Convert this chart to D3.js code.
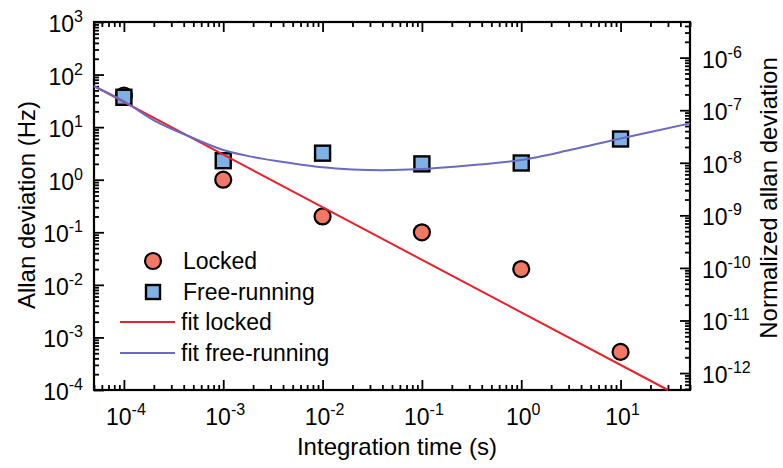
<!DOCTYPE html>
<html>
<head>
<meta charset="utf-8">
<title>Allan deviation</title>
<script src="https://d3js.org/d3.v7.min.js"></script>
<style>
  body { margin: 0; background: #fff; }
  svg text { font-family: "Liberation Sans", Arial, sans-serif; fill: #000; }
</style>
</head>
<body>
<svg id="chart" width="783" height="468"></svg>
<script>
// measured points
var tau = [1e-4, 1e-3, 1e-2, 1e-1, 1e0, 1e1];
var locked = [40, 1.0, 0.2, 0.1, 0.02, 0.00053];
var freeRunning = [37, 2.3, 3.2, 2.0, 2.08, 5.95];

// fit curves
var fitLockedTau = [5e-5, 30];
var fitLocked = [60, 1e-4];
var fitFreeTau = [5e-5, 1e-4, 2.14e-4, 4.7e-4, 1e-3, 2e-3, 4.7e-3, 1e-2, 2e-2, 4e-2, 0.1, 0.38, 1, 3.16, 10, 50];
var fitFree = [60, 31, 12.6, 6.5, 3.67, 2.7, 2.08, 1.72, 1.57, 1.52, 1.6, 1.95, 2.37, 3.7, 6.1, 11.8];

var xExp = [-4, -3, -2, -1, 0, 1];
var yExp = [3, 2, 1, 0, -1, -2, -3, -4];
var rExp = [-6, -7, -8, -9, -10, -11, -12];
var normFactor = 2.1e8;

var legendLabels = ["Locked", "Free-running", "fit locked", "fit free-running"];

(function() {
    var svg = d3.select("#chart");
    var mLeft = 94, mRight = 690, mTop = 22, mBottom = 390;

    var x = d3.scaleLog().domain([5e-5, 50]).range([mLeft, mRight]);
    var y = d3.scaleLog().domain([1e-4, 1e3]).range([mBottom, mTop]);
    var yR = d3.scaleLog().domain([1e-4 / normFactor, 1e3 / normFactor]).range([mBottom, mTop]);

    function minors(scale) {
        var d = scale.domain(), out = [];
        var lo = Math.floor(Math.log10(d[0])), hi = Math.ceil(Math.log10(d[1]));
        for (var p = lo; p <= hi; p++)
            for (var k = 2; k <= 9; k++) {
                var v = k * Math.pow(10, p);
                if (v >= d[0] && v <= d[1]) out.push(v);
            }
        return out;
    }
    function majors(scale) {
        var d = scale.domain(), out = [];
        for (var p = Math.ceil(Math.log10(d[0]) - 1e-9); p <= Math.floor(Math.log10(d[1]) + 1e-9); p++)
            out.push(Math.pow(10, p));
        return out;
    }

    // ticks, all pointing inwards
    function drawTicks(axisFn, scale, transform) {
        [[majors(scale), 10], [minors(scale), 5]].forEach(function(t) {
            svg.append("g")
                .attr("transform", transform)
                .call(axisFn(scale).tickValues(t[0]).tickSize(-t[1]).tickSizeOuter(0).tickFormat(""))
                .call(function(g) {
                    g.select(".domain").remove();
                    g.selectAll("line").attr("stroke", "#000").attr("stroke-width", 1.8);
                });
        });
    }
    drawTicks(d3.axisBottom, x, "translate(0," + mBottom + ")");
    drawTicks(d3.axisTop, x, "translate(0," + mTop + ")");
    drawTicks(d3.axisLeft, y, "translate(" + mLeft + ",0)");
    drawTicks(d3.axisRight, yR, "translate(" + mRight + ",0)");

    svg.append("rect")
        .attr("x", mLeft).attr("y", mTop)
        .attr("width", mRight - mLeft).attr("height", mBottom - mTop)
        .attr("fill", "none").attr("stroke", "#000").attr("stroke-width", 2.2);

    function powLabel(g, e, px, py, anchor) {
        var t = g.append("text")
            .attr("x", px).attr("y", py)
            .attr("text-anchor", anchor)
            .style("font-size", "23px");
        t.append("tspan").text("10");
        t.append("tspan").attr("dy", -10).style("font-size", "16px").text(e);
    }

    var labels = svg.append("g");
    xExp.forEach(function(e) { powLabel(labels, e, x(Math.pow(10, e)) + 2, 425, "middle"); });
    yExp.forEach(function(e) { powLabel(labels, e, 83, y(Math.pow(10, e)) + 10, "end"); });
    rExp.forEach(function(e) { powLabel(labels, e, 702, yR(Math.pow(10, e)) + 10, "start"); });

    svg.append("text")
        .attr("x", 397).attr("y", 455)
        .attr("text-anchor", "middle")
        .style("font-size", "24px")
        .text("Integration time (s)");

    svg.append("text")
        .attr("transform", "translate(35,205) rotate(-90)")
        .attr("text-anchor", "middle")
        .style("font-size", "24px")
        .text("Allan deviation (Hz)");

    svg.append("text")
        .attr("transform", "translate(777,198) rotate(-90)")
        .attr("text-anchor", "middle")
        .style("font-size", "24px")
        .text("Normalized allan deviation");

    var plot = svg.append("g");

    // markers
    plot.selectAll("circle.locked")
        .data(tau.map(function(t, i) { return [t, locked[i]]; }))
        .enter().append("circle")
        .attr("class", "locked")
        .attr("cx", function(d) { return x(d[0]); })
        .attr("cy", function(d) { return y(d[1]); })
        .attr("r", 8)
        .attr("fill", "#f07864")
        .attr("stroke", "#000").attr("stroke-width", 2.2);

    plot.selectAll("rect.free")
        .data(tau.map(function(t, i) { return [t, freeRunning[i]]; }))
        .enter().append("rect")
        .attr("class", "free")
        .attr("x", function(d) { return x(d[0]) - 7.5; })
        .attr("y", function(d) { return y(d[1]) - 7.5; })
        .attr("width", 15).attr("height", 15)
        .attr("fill", "#7fb2e4")
        .attr("stroke", "#000").attr("stroke-width", 2.4);

    // fit lines
    var line = d3.line()
        .x(function(d) { return x(d[0]); })
        .y(function(d) { return y(d[1]); });

    plot.append("path")
        .datum(fitLockedTau.map(function(t, i) { return [t, fitLocked[i]]; }))
        .attr("d", line)
        .attr("fill", "none").attr("stroke", "#e8212b").attr("stroke-width", 2);

    plot.append("path")
        .datum(fitFreeTau.map(function(t, i) { return [t, fitFree[i]]; }))
        .attr("d", line.curve(d3.curveCatmullRom.alpha(0.5)))
        .attr("fill", "none").attr("stroke", "#6a6ac0").attr("stroke-width", 2);

    // legend
    var lg = svg.append("g");
    var rows = [261, 292, 322, 353];
    lg.append("circle").attr("cx", 153).attr("cy", rows[0]).attr("r", 8)
        .attr("fill", "#f07864").attr("stroke", "#000").attr("stroke-width", 2.2);
    lg.append("rect").attr("x", 146).attr("y", rows[1] - 7).attr("width", 14).attr("height", 14)
        .attr("fill", "#7fb2e4").attr("stroke", "#000").attr("stroke-width", 2.4);
    lg.append("line").attr("x1", 120).attr("x2", 175).attr("y1", rows[2]).attr("y2", rows[2])
        .attr("stroke", "#e8212b").attr("stroke-width", 2);
    lg.append("line").attr("x1", 120).attr("x2", 175).attr("y1", rows[3]).attr("y2", rows[3])
        .attr("stroke", "#6a6ac0").attr("stroke-width", 2);
    legendLabels.forEach(function(s, i) {
        lg.append("text")
            .attr("x", i < 2 ? 183 : 181).attr("y", rows[i] + 8)
            .style("font-size", "23px")
            .text(s);
    });
})();
</script>
</body>
</html>
